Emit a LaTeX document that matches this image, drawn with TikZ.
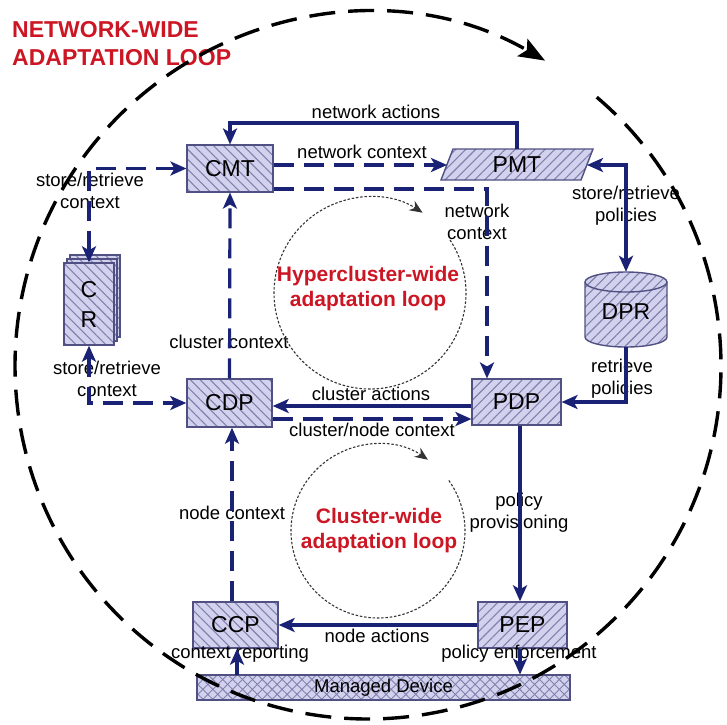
\documentclass[tikz,border=0pt]{standalone}
\usepackage{fontspec}
\setmainfont{Liberation Sans}
\usetikzlibrary{arrows.meta,patterns.meta,calc}

\definecolor{navy}{RGB}{26,34,118}
\definecolor{boxfill}{RGB}{210,210,238}
\definecolor{hatch}{RGB}{128,128,172}
\definecolor{boxline}{RGB}{80,80,130}
\definecolor{loopred}{RGB}{204,22,36}

\newcommand\fLbl{\fontsize{18.5}{22}\selectfont}
\newcommand\fUnit{\fontsize{23}{30}\selectfont}
\newcommand\fLoop{\fontsize{21}{25}\selectfont\bfseries}
\newcommand\fHead{\fontsize{23}{28}\selectfont\bfseries}

\begin{document}
\begin{tikzpicture}[x=1pt,y=-1pt,
  >={Stealth[length=16pt,width=14pt,inset=4pt]},
  hatchbox/.style={draw=boxline, line width=1.4pt, preaction={fill=boxfill},
    pattern={Lines[angle=#1,distance=7pt,line width=1.1pt]}, pattern color=hatch},
  unit/.style={hatchbox=#1, inner sep=0pt, font=\fUnit, align=center},
  conn/.style={draw=navy, line width=3.2pt},
  dconn/.style={conn, dash pattern=on 20pt off 10pt},
  lbl/.style={inner sep=0pt, align=center, font=\fLbl},
  looplbl/.style={inner sep=0pt, align=center, font=\fLoop, text=loopred},
  loopline/.style={draw=black!75, line width=1.1pt, dash pattern=on 2.5pt off 1.8pt},
]
\useasboundingbox (0,0) rectangle (727,724);

% ---- functional units ----
\node[unit=-45, minimum width=86pt, minimum height=47pt] (cmt) at (230,168.5) {CMT};
\node[unit=-45, minimum width=85pt, minimum height=48pt] (cdp) at (229.5,403) {CDP};
\node[unit=45,  minimum width=89pt, minimum height=46pt] (pdp) at (516.5,402) {PDP};
\node[unit=-45, minimum width=85pt, minimum height=46pt] (ccp) at (235.5,625) {CCP};
\node[unit=45,  minimum width=89pt, minimum height=46pt] (pep) at (522.5,625) {PEP};

% managed device (cross-hatched)
\node[draw=boxline, line width=1.4pt, preaction={fill=boxfill},
      preaction={pattern={Lines[angle=45,distance=7pt,line width=0.9pt]}, pattern color=hatch},
      pattern={Lines[angle=-45,distance=7pt,line width=0.9pt]}, pattern color=hatch,
      minimum width=373pt, minimum height=25pt, inner sep=0pt, font=\fLbl]
      (md) at (383.5,687.5) {Managed Device};

% context repository: stack of sheets
\path[hatchbox=-45] (70,255) rectangle (120,337);
\path[hatchbox=-45] (67,259) rectangle (117,341);
\node[unit=-45, minimum width=50pt, minimum height=82pt] (cr) at (89,304) {C\\R};

% policy management tool: parallelogram
\path[hatchbox=45] (453,149) -- (593,149) -- (581,180) -- (441,180) -- cycle;
\node[inner sep=0pt, font=\fUnit] (pmt) at (517,164.5) {PMT};
\coordinate (pmtN) at (517,149);
\coordinate (pmtW) at (447,165);
\coordinate (pmtE) at (587,165);

% policy repository: cylinder
\path[hatchbox=45] (585,282) -- (585,337)
  arc[start angle=180, end angle=0, x radius=41, y radius=10]
  -- (667,282)
  arc[start angle=0, end angle=-180, x radius=41, y radius=10] -- cycle;
\draw[draw=boxline, line width=1.4pt] (585,282)
  arc[start angle=180, end angle=0, x radius=41, y radius=10];
\node[inner sep=0pt, minimum width=82pt, minimum height=75pt] (dpr) at (626,309.5) {};
\node[inner sep=0pt, font=\fUnit] (dprtext) at (626,312) {DPR};

% ---- connector labels ----
\node[lbl] (l1)  at (376,112) {network actions};
\node[lbl] (l2)  at (362,152) {network context};
\node[lbl] (l3)  at (477,222) {network\\context};
\node[lbl] (l4)  at (90,191)  {store/retrieve\\context};
\node[lbl] (l5)  at (107,379) {store/retrieve\\context};
\node[lbl] (l6)  at (229,342) {cluster context};
\node[lbl] (l7)  at (371,394) {cluster actions};
\node[lbl] (l8)  at (372,430) {cluster/node context};
\node[lbl] (l9)  at (232,513) {node context};
\node[lbl] (l10) at (519,513) {policy\\provisioning};
\node[lbl] (l11) at (377,636) {node actions};
\node[lbl] (l12) at (240,654) {context reporting};
\node[lbl] (l13) at (519,654) {policy enforcement};
\node[lbl] (l14) at (626,206) {store/retrieve\\policies};
\node[lbl] (l15) at (622,379) {retrieve\\policies};

% ---- connectors ----
\coordinate (naTop) at (517,123);
\draw[conn,->] (pmtN) -- (naTop) -| (cmt.north);
\draw[dconn,->] (cmt.east |- pmtW) -- (pmtW);
\coordinate (ncCorner) at (487,189);
\draw[dconn,->] (cmt.east |- ncCorner) -- (ncCorner) -- (ncCorner |- pdp.north);
\draw[dconn,<->] (cr.north) |- (cmt.west);
\draw[dconn,<->] (cr.south) |- (cdp.west);
\draw[dconn,->] (cdp.north) -- (cmt.south);
\coordinate (caY) at (0,406);
\coordinate (cnY) at (0,419);
\draw[conn,->] (pdp.west |- caY) -- (cdp.east |- caY);
\draw[dconn,->] (cdp.east |- cnY) -- (pdp.west |- cnY);
\coordinate (ncX) at (232,0);
\draw[dconn,->] (ccp.north -| ncX) -- (cdp.south -| ncX);
\coordinate (ppX) at (520,0);
\draw[conn,->] (pdp.south -| ppX) -- (pep.north -| ppX);
\draw[conn,->] (pep.west) -- (ccp.east);
\coordinate (crX) at (237,0);
\draw[conn,->] (md.north -| crX) -- (ccp.south -| crX);
\draw[conn,->] (pep.south -| ppX) -- (md.north -| ppX);
\draw[conn,<->] (pmtE) -| (dpr.north);
\draw[conn,->] (dpr.south) |- (pdp.east);

% ---- adaptation loops ----
\coordinate (hc) at (370,293);
\coordinate (cc) at (378,531);
\coordinate (nc) at (368,366);
\draw[loopline, -{Stealth[length=13pt,width=11pt]}, black!80]
  (hc) ++(-33.5:96) arc[start angle=-33.5, end angle=303.2, radius=96];
\draw[loopline, -{Stealth[length=13pt,width=11pt]}, black!80]
  (cc) ++(-35.5:87) arc[start angle=-35.5, end angle=305, radius=87];
\node[looplbl] (hcl) at (368,289) {Hypercluster-wide\\adaptation loop};
\node[looplbl] (ccl) at (379,531) {Cluster-wide\\adaptation loop};

\node[inner sep=0pt, align=left, anchor=west, font=\fHead, text=loopred]
  (title) at (12,44) {NETWORK-WIDE\\ADAPTATION LOOP};

\draw[line width=3.4pt, dash pattern=on 26pt off 13pt,
      -{Stealth[length=26pt,width=20pt,inset=5pt]}]
  (nc) ++(-49.6:353) arc[start angle=-49.6, end angle=300.1, radius=353];
\end{tikzpicture}
\end{document}
